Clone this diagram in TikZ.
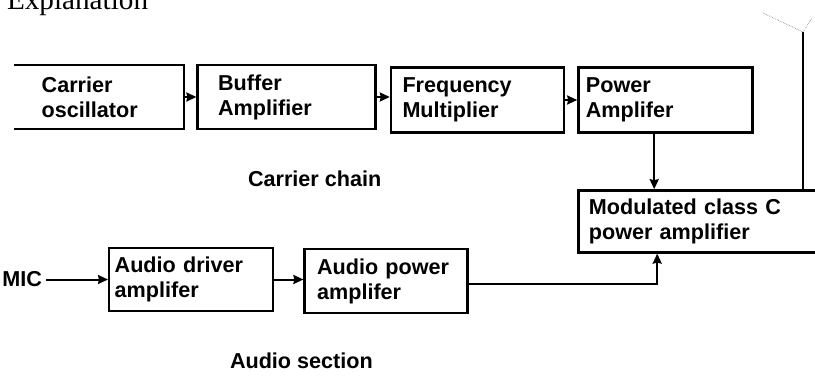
\documentclass[tikz,border=0pt]{standalone}
\usepackage{fontspec}
\setmainfont{Liberation Sans}
\newfontfamily\headserif{Liberation Serif}
\usepackage{tikz}
\usetikzlibrary{shapes,arrows.meta,positioning}
\definecolor{antgray}{RGB}{140,140,140}

\tikzset{
    blk/.style={draw, rectangle, line width=2.4pt, align=left, font=\fontsize{21.6}{25}\selectfont\bfseries, inner ysep=2pt},
    lbl/.style={font=\fontsize{21.6}{25}\selectfont\bfseries, inner sep=0pt}
}

\begin{document}
\begin{tikzpicture}[x=1pt, y=-1pt, >={Stealth[length=10pt, width=9pt, inset=1pt]}, line width=2pt]
    \useasboundingbox (0,0) rectangle (815,376);
    \clip (0,0) rectangle (815,376);
    \node[anchor=base west, inner sep=0pt, font=\headserif\fontsize{29.2}{30}\selectfont] (expl) at (6,9) {Explanation};

    % carrier chain
    \begin{scope}
        \clip (14,0) rectangle (200,150);
        \node[blk, anchor=west, minimum height=64pt, text width=102pt, inner xsep=40.5pt] (carosc) at (0,97) {Carrier\\oscillator};
    \end{scope}
    \node[blk, minimum height=64pt, text width=137pt, inner xsep=20.5pt, right=11pt of carosc] (buffer) {Buffer\\Amplifier};
    \node[blk, minimum height=65pt, text width=150pt, inner xsep=11.5pt, right=13pt of buffer, yshift=-3pt] (freq) {Frequency\\Multiplier};
    \node[blk, minimum height=65pt, text width=159pt, inner xsep=7.5pt, right=12pt of freq] (pa) {Power\\Amplifer};
    \node[blk, minimum height=62pt, text width=239pt, inner xsep=10.5pt, below right=55.5pt and 0pt of pa.south west] (modamp) {Modulated class C\\power amplifier};
    \node[lbl, anchor=base west] (carlbl) at (247,186) {Carrier chain};

    % audio section
    \node[blk, anchor=west, minimum height=63pt, text width=153pt, inner xsep=5.5pt] (adrv) at (108,279.5) {Audio driver\\amplifer};
    \node[blk, minimum height=64pt, text width=138pt, inner xsep=12.5pt, right=29pt of adrv, yshift=-1.5pt] (apwr) {Audio power\\amplifer};
    \node[lbl, inner sep=3pt, left=62pt of adrv] (mic) {MIC};
    \node[lbl, anchor=base west] (audlbl) at (229,368) {Audio section};

    % antenna
    \coordinate (ant) at (803,32);
    \coordinate (antl) at (763,13);
    \coordinate (antr) at (812,18);

    \draw[->] (carosc) -- (buffer);
    \draw[->] (buffer.east) -- (buffer.east -| freq.west);
    \draw[->] (freq) -- (pa);
    \draw[->] ([xshift=77pt]pa.south west) -- ([xshift=77pt]modamp.north west);
    \draw[->] (mic) -- (adrv);
    \draw[->] (adrv.east) -- (adrv.east -| apwr.west);
    \draw[->] ([yshift=-3pt]apwr.east) -| ([xshift=80pt]modamp.south west);
    \draw[line width=2.4pt] (ant |- modamp.north) -- (ant);
    \draw[antgray, densely dotted, line width=0.7pt] (antl) -- (ant) -- (antr);
\end{tikzpicture}
\end{document}
